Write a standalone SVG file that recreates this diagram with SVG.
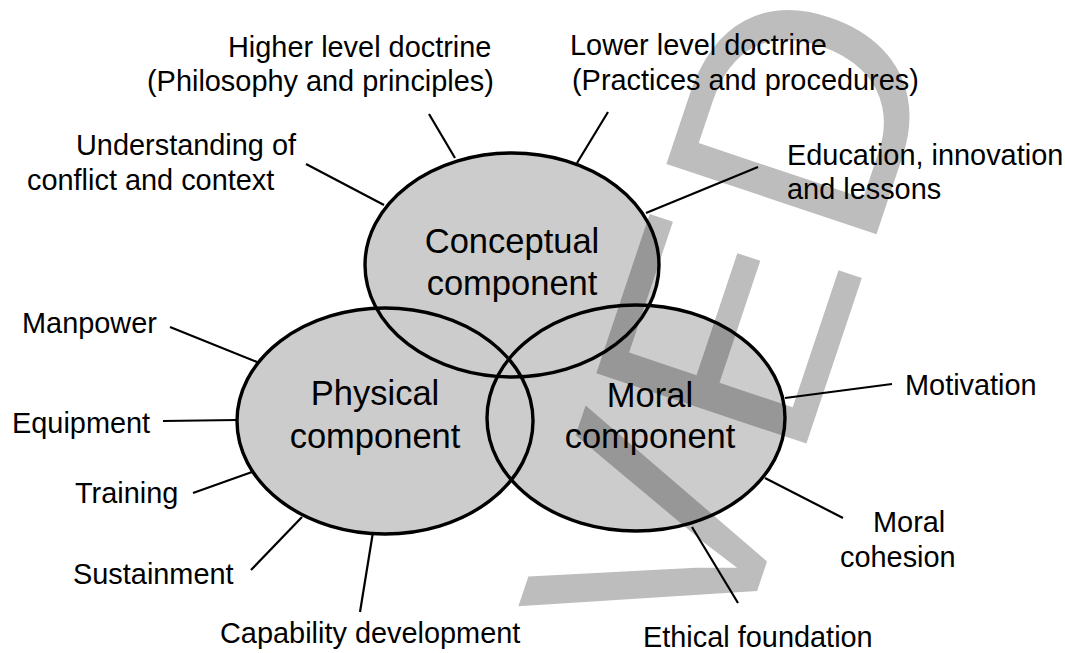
<svg xmlns="http://www.w3.org/2000/svg" width="1065" height="653" viewBox="0 0 1065 653">
  <style>
    .fill { fill: #cccccc; stroke: none; }
    .outline { fill: none; stroke: #000; stroke-width: 3.4; }
    .lbl { font-family: "Liberation Sans", Arial, sans-serif; font-size: 28.9px; fill: #000; }
    .comp { font-family: "Liberation Sans", Arial, sans-serif; font-size: 34.5px; fill: #000; text-anchor: middle; }
    .conn line { stroke: #000; stroke-width: 2.2; }
    .wm { font-family: "Liberation Sans", Arial, sans-serif; font-size: 322px; fill: #000; fill-opacity: 0.26; letter-spacing: 6px; }
  </style>
  <rect width="1065" height="653" fill="#fff"/>
  <g id="fills">
    <ellipse class="fill" cx="512" cy="265" rx="147" ry="112"/>
    <ellipse class="fill" cx="385" cy="421" rx="148" ry="113"/>
    <ellipse class="fill" cx="636" cy="418" rx="149" ry="113"/>
  </g>
  <g id="watermark">
    <text class="wm" transform="translate(728,678) rotate(-71.5)" x="0" y="0">VED</text>
  </g>
  <g id="connectors" class="conn">
    <line x1="306" y1="164" x2="384" y2="205"/>
    <line x1="429" y1="114" x2="455" y2="158"/>
    <line x1="608" y1="112" x2="577" y2="163"/>
    <line x1="758" y1="167" x2="646" y2="213"/>
    <line x1="170" y1="327" x2="257" y2="362"/>
    <line x1="163" y1="421" x2="237" y2="420"/>
    <line x1="193" y1="493" x2="252" y2="472"/>
    <line x1="251" y1="570" x2="302" y2="517"/>
    <line x1="360" y1="612" x2="373" y2="532"/>
    <line x1="692" y1="527" x2="738" y2="603"/>
    <line x1="892" y1="384" x2="785" y2="398"/>
    <line x1="843" y1="518" x2="765" y2="478"/>
  </g>
  <g id="conceptual">
    <ellipse class="outline" cx="512" cy="265" rx="147" ry="112"/>
    <text class="comp" x="512" y="253">Conceptual</text>
    <text class="comp" x="512" y="295">component</text>
  </g>
  <g id="physical">
    <ellipse class="outline" cx="385" cy="421" rx="148" ry="113"/>
    <text class="comp" x="375" y="405">Physical</text>
    <text class="comp" x="375" y="448">component</text>
  </g>
  <g id="moral">
    <ellipse class="outline" cx="636" cy="418" rx="149" ry="113"/>
    <text class="comp" x="650" y="407">Moral</text>
    <text class="comp" x="650" y="448">component</text>
  </g>
  <g id="label-higher"><text class="lbl" x="228" y="57">Higher level doctrine</text><text class="lbl" x="147" y="91">(Philosophy and principles)</text></g>
  <g id="label-lower"><text class="lbl" x="570" y="55">Lower level doctrine</text><text class="lbl" x="572" y="90">(Practices and procedures)</text></g>
  <g id="label-understanding"><text class="lbl" x="76" y="155">Understanding of</text><text class="lbl" x="27" y="190">conflict and context</text></g>
  <g id="label-education"><text class="lbl" x="787" y="165">Education, innovation</text><text class="lbl" x="787" y="199">and lessons</text></g>
  <g id="label-manpower"><text class="lbl" x="22" y="333">Manpower</text></g>
  <g id="label-equipment"><text class="lbl" x="12" y="433">Equipment</text></g>
  <g id="label-training"><text class="lbl" x="75" y="503">Training</text></g>
  <g id="label-sustainment"><text class="lbl" x="73" y="584">Sustainment</text></g>
  <g id="label-capability"><text class="lbl" x="220" y="643">Capability development</text></g>
  <g id="label-ethical"><text class="lbl" x="643" y="647">Ethical foundation</text></g>
  <g id="label-motivation"><text class="lbl" x="905" y="395">Motivation</text></g>
  <g id="label-cohesion"><text class="lbl" x="873" y="532">Moral</text><text class="lbl" x="840" y="567">cohesion</text></g>
</svg>
